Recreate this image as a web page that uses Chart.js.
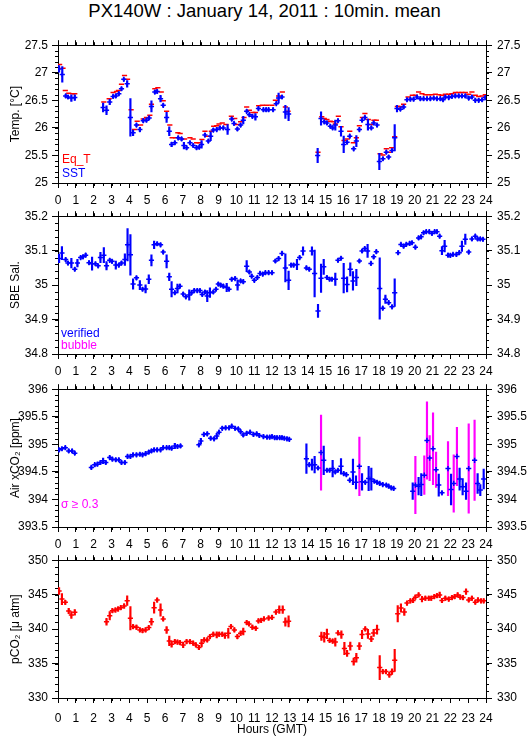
<!DOCTYPE html>
<html>
<head>
<meta charset="utf-8">
<script src="https://cdn.jsdelivr.net/npm/chart.js"></script>
<style>
  body { margin: 0; width: 529px; height: 739px; background: #fff; position: relative; overflow: hidden;
         font-family: "Liberation Sans", Arial, Helvetica, sans-serif; }
  canvas { position: absolute; left: 0; }
  .note { position: absolute; font-size: 12px; line-height: 12px; white-space: nowrap; }
</style>
</head>
<body>
<div style="position:absolute;left:0;top:2px;width:529px;text-align:center;font-size:18.5px;line-height:18px">PX140W : January 14, 2011 : 10min. mean</div>

<canvas id="tempChart" width="529" height="172" style="top:33px"></canvas>
<canvas id="salChart" width="529" height="172" style="top:204px"></canvas>
<canvas id="airChart" width="529" height="172" style="top:377px"></canvas>
<canvas id="pco2Chart" width="529" height="191" style="top:548px"></canvas>

<div class="note" style="left:62px;top:153px;color:#f00">Eq_T</div>
<div class="note" style="left:62px;top:167px;color:#00f">SST</div>
<div class="note" style="left:61px;top:327px;color:#00f">verified</div>
<div class="note" style="left:61px;top:339px;color:#f0f">bubble</div>
<div class="note" style="left:61px;top:498px;color:#f0f">σ ≥ 0.3</div>

<script>
// --- DATA ---  [hour, value, half error bar]
const sst = [
  [0.06,27.07,0.06],[0.24,26.97,0.14],[0.43,26.58,0.03],[0.56,26.56,0.03],[0.75,26.54,0.06],[0.94,26.55,0.05],
  [2.53,26.37,0.08],[2.72,26.32,0.08],[2.90,26.47,0.05],[3.09,26.57,0.03],[3.24,26.58,0.03],[3.41,26.62,0.03],[3.56,26.71,0.03],[3.69,26.88,0.03],[3.88,26.80,0.06],
  [4.06,26.19,0.34],[4.21,25.91,0.05],[4.40,26.05,0.03],[4.59,25.97,0.04],[4.78,26.13,0.03],[4.96,26.14,0.03],[5.11,26.18,0.03],[5.24,26.39,0.10],[5.43,26.65,0.03],[5.56,26.66,0.03],[5.75,26.53,0.06],[5.90,26.41,0.03],
  [6.09,26.19,0.09],[6.24,25.94,0.08],[6.37,25.70,0.04],[6.55,25.73,0.03],[6.74,25.82,0.03],[6.93,25.80,0.03],[7.06,25.68,0.06],[7.21,25.64,0.03],[7.40,25.73,0.03],[7.58,25.68,0.03],[7.77,25.64,0.03],[7.92,25.65,0.03],
  [8.05,25.70,0.07],[8.24,25.87,0.03],[8.43,25.76,0.03],[8.56,25.85,0.08],[8.71,25.96,0.03],[8.90,25.97,0.03],[9.08,26.00,0.03],[9.27,26.00,0.03],[9.51,25.97,0.09],[9.74,26.16,0.03],[9.87,26.08,0.03],
  [10.06,25.98,0.03],[10.24,26.05,0.03],[10.39,26.14,0.07],[10.58,26.30,0.03],[10.73,26.24,0.03],[10.90,26.21,0.03],[11.07,26.20,0.06],[11.24,26.35,0.03],[11.52,26.33,0.03],[11.67,26.33,0.03],[11.81,26.33,0.03],
  [12.06,26.33,0.03],[12.24,26.44,0.03],[12.37,26.54,0.09],[12.56,26.56,0.03],[12.75,26.29,0.12],[12.93,26.25,0.12],
  [14.56,25.50,0.13],[14.75,26.17,0.12],[14.93,26.11,0.03],[15.08,26.09,0.03],[15.27,26.03,0.03],[15.40,26.00,0.03],[15.55,26.05,0.09],[15.70,26.13,0.03],[15.87,25.94,0.09],
  [16.02,25.70,0.15],[16.21,25.74,0.03],[16.36,25.85,0.03],[16.58,25.62,0.03],[16.73,25.76,0.10],[16.90,25.97,0.03],[17.05,26.14,0.03],[17.21,26.19,0.03],[17.38,26.06,0.10],[17.57,26.00,0.03],[17.70,26.09,0.03],[17.89,26.05,0.03],
  [18.02,25.39,0.15],[18.22,25.44,0.03],[18.41,25.56,0.03],[18.54,25.47,0.03],[18.73,25.59,0.03],[18.88,25.82,0.24],[19.01,26.35,0.06],[19.20,26.34,0.03],[19.38,26.38,0.03],[19.57,26.51,0.03],[19.76,26.52,0.03],[19.94,26.52,0.03],
  [20.13,26.56,0.03],[20.32,26.53,0.03],[20.50,26.53,0.03],[20.69,26.53,0.03],[20.88,26.53,0.03],[21.07,26.54,0.03],[21.25,26.53,0.03],[21.44,26.53,0.03],[21.59,26.51,0.03],[21.72,26.56,0.03],[21.91,26.55,0.03],
  [22.09,26.57,0.03],[22.28,26.58,0.03],[22.47,26.58,0.03],[22.65,26.58,0.03],[22.84,26.58,0.03],[23.03,26.54,0.03],[23.21,26.56,0.03],[23.40,26.50,0.03],[23.59,26.50,0.03],[23.78,26.51,0.03],[23.96,26.55,0.03]
];

// [hour, value]
const eqT = [
  [0.09,27.15],[0.28,27.08],[0.41,26.68],[0.60,26.63],[0.81,26.62],[0.94,26.62],[2.57,26.47],[2.87,26.53],[3.09,26.64],[3.28,26.66],[3.39,26.68],[3.56,26.79],[3.73,26.95],[3.90,26.88],
  [4.10,26.33],[4.29,25.97],[4.44,26.12],[4.63,26.05],[4.78,26.16],[4.96,26.19],[5.15,26.23],[5.24,26.43],[5.43,26.71],[5.60,26.73],[5.79,26.65],[5.90,26.49],[6.09,26.30],[6.27,26.05],[6.40,25.82],
  [6.59,25.82],[6.72,25.91],[6.85,25.90],[7.10,25.80],[7.40,25.82],[7.58,25.80],[7.77,25.73],[7.92,25.73],[8.07,25.79],[8.24,25.94],[8.43,25.85],[8.60,25.94],[8.73,26.03],[8.90,26.04],[9.03,26.07],
  [9.21,26.09],[9.42,26.06],[9.72,26.21],[9.91,26.17],[10.06,26.06],[10.24,26.11],[10.43,26.19],[10.58,26.38],[10.73,26.32],[10.92,26.28],[11.07,26.28],[11.25,26.40],[11.46,26.41],[11.72,26.41],
  [12.00,26.41],[12.19,26.50],[12.37,26.58],[12.58,26.65],[12.75,26.38],[12.90,26.30],
  [14.58,25.56],[14.79,26.20],[14.93,26.17],[15.08,26.15],[15.27,26.12],[15.42,26.11],[15.55,26.07],[15.72,26.21],[15.87,26.02],[16.04,25.77],[16.22,25.80],[16.36,25.94],[16.56,25.73],[16.73,25.82],
  [16.90,26.04],[17.07,26.19],[17.21,26.26],[17.40,26.15],[17.53,26.06],[17.72,26.14],[17.85,26.14],[18.06,25.53],[18.22,25.51],[18.41,25.62],[18.56,25.56],[18.71,25.64],[18.88,25.84],
  [19.03,26.39],[19.21,26.39],[19.38,26.43],[19.63,26.56],[19.87,26.59],[20.04,26.59],[20.22,26.65],[20.41,26.62],[20.60,26.60],[20.79,26.60],[20.97,26.60],[21.16,26.61],[21.35,26.60],[21.53,26.59],
  [21.72,26.61],[21.91,26.61],[22.09,26.62],[22.28,26.64],[22.47,26.64],[22.65,26.64],[22.84,26.64],[23.03,26.61],[23.21,26.65],[23.40,26.59],[23.59,26.57],[23.78,26.58],[23.96,26.60]
];

const salinity = [
  [0.06,35.077,0.012],[0.22,35.093,0.019],[0.43,35.074,0.005],[0.56,35.064,0.005],[0.75,35.064,0.014],[0.94,35.046,0.005],[1.09,35.064,0.011],[1.27,35.080,0.005],[1.40,35.082,0.005],[1.55,35.087,0.005],
  [1.74,35.065,0.005],[1.91,35.062,0.019],[2.10,35.062,0.005],[2.25,35.056,0.005],[2.38,35.080,0.015],[2.57,35.087,0.022],[2.72,35.056,0.012],[2.90,35.072,0.005],[3.03,35.069,0.005],[3.24,35.058,0.012],
  [3.41,35.058,0.005],[3.56,35.064,0.005],[3.75,35.074,0.017],[3.90,35.117,0.047],[4.06,35.088,0.059],[4.21,35.003,0.015],[4.40,35.021,0.005],[4.59,35.000,0.013],[4.74,34.988,0.005],[4.91,34.989,0.012],
  [5.09,35.017,0.013],[5.24,35.072,0.016],[5.39,35.117,0.011],[5.56,35.120,0.005],[5.75,35.117,0.005],[5.90,35.096,0.005],[6.09,35.069,0.019],[6.24,35.024,0.011],[6.37,34.988,0.022],[6.55,34.978,0.005],
  [6.70,34.990,0.013],[6.84,34.997,0.005],[7.02,34.974,0.005],[7.17,34.966,0.005],[7.36,34.971,0.015],[7.49,34.978,0.005],[7.64,34.984,0.005],[7.81,34.984,0.005],[7.96,34.984,0.005],[8.09,34.973,0.005],
  [8.24,34.980,0.005],[8.37,34.968,0.016],[8.52,34.978,0.014],[8.71,34.980,0.005],[8.86,34.988,0.005],[8.99,35.003,0.005],[9.12,35.000,0.005],[9.27,34.997,0.005],[9.46,34.993,0.012],[9.59,34.988,0.005],
  [9.74,35.017,0.005],[9.93,35.019,0.005],[10.07,35.000,0.015],[10.24,35.012,0.005],[10.39,35.010,0.005],[10.58,35.055,0.016],[10.73,35.038,0.005],[10.86,35.026,0.005],[11.01,35.014,0.005],[11.18,35.022,0.005],
  [11.33,35.034,0.005],[11.48,35.032,0.005],[11.63,35.036,0.005],[11.81,35.036,0.005],[12.00,35.036,0.005],[12.19,35.070,0.005],[12.37,35.077,0.005],[12.56,35.092,0.005],[12.75,35.050,0.041],[12.93,35.014,0.027],
  [13.07,35.058,0.005],[13.21,35.058,0.005],[13.40,35.060,0.015],[13.55,35.080,0.005],[13.74,35.099,0.012],[13.93,35.050,0.005],[14.09,35.046,0.005],[14.24,35.099,0.012],[14.39,35.034,0.068],[14.58,34.925,0.019],
  [14.75,35.020,0.041],[14.90,35.053,0.022],[15.08,35.022,0.005],[15.23,35.017,0.005],[15.36,35.017,0.005],[15.55,35.017,0.018],[15.70,35.072,0.005],[15.87,35.078,0.005],[16.02,35.020,0.043],[16.21,35.002,0.022],
  [16.39,35.046,0.019],[16.54,35.012,0.027],[16.73,35.022,0.024],[16.90,35.070,0.005],[17.05,35.099,0.005],[17.20,35.106,0.005],[17.36,35.099,0.019],[17.55,35.063,0.005],[17.70,35.082,0.005],[17.85,35.097,0.005],
  [18.04,34.990,0.089],[18.21,34.933,0.005],[18.36,34.959,0.012],[18.54,34.949,0.005],[18.73,34.937,0.005],[18.88,34.978,0.040],[19.07,35.094,0.005],[19.23,35.118,0.005],[19.38,35.113,0.005],[19.53,35.118,0.005],
  [19.72,35.121,0.005],[19.85,35.123,0.005],[20.04,35.110,0.005],[20.22,35.137,0.005],[20.36,35.140,0.005],[20.50,35.152,0.005],[20.65,35.155,0.005],[20.82,35.155,0.005],[20.97,35.150,0.005],[21.12,35.155,0.005],
  [21.25,35.155,0.005],[21.40,35.142,0.005],[21.53,35.100,0.012],[21.68,35.113,0.017],[21.87,35.087,0.005],[22.00,35.086,0.005],[22.15,35.089,0.005],[22.34,35.089,0.005],[22.50,35.094,0.005],[22.65,35.113,0.015],
  [22.84,35.133,0.015],[23.03,35.096,0.005],[23.21,35.134,0.005],[23.40,35.142,0.005],[23.53,35.134,0.005],[23.68,35.134,0.005],[23.83,35.133,0.005]
];

const airXco2 = [
  [0.06,394.90,0.03],[0.22,394.92,0.03],[0.41,394.94,0.03],[0.60,394.88,0.03],[0.79,394.88,0.03],[0.94,394.84,0.03],
  [1.87,394.58,0.03],[2.06,394.63,0.03],[2.21,394.64,0.03],[2.38,394.67,0.03],[2.53,394.70,0.05],[2.68,394.67,0.03],[2.90,394.76,0.03],[3.05,394.73,0.03],[3.24,394.72,0.03],[3.41,394.72,0.03],
  [3.56,394.67,0.03],[3.75,394.67,0.03],[3.90,394.78,0.03],[4.06,394.78,0.03],[4.21,394.81,0.03],[4.40,394.81,0.03],[4.59,394.82,0.03],[4.74,394.81,0.03],[4.91,394.83,0.03],[5.09,394.86,0.03],
  [5.24,394.88,0.03],[5.39,394.90,0.03],[5.56,394.90,0.03],[5.75,394.90,0.03],[5.90,394.94,0.03],[6.09,394.94,0.03],[6.24,394.94,0.03],[6.37,394.93,0.03],[6.55,394.97,0.05],[6.70,394.96,0.03],[6.87,394.97,0.03],
  [7.90,394.99,0.03],[8.01,395.06,0.05],[8.18,395.18,0.03],[8.37,395.19,0.03],[8.56,395.11,0.03],[8.75,395.10,0.03],[8.90,395.15,0.05],[9.03,395.22,0.03],[9.21,395.29,0.03],[9.40,395.30,0.03],
  [9.59,395.30,0.03],[9.74,395.33,0.03],[9.93,395.29,0.03],[10.11,395.28,0.03],[10.24,395.23,0.03],[10.39,395.17,0.03],[10.58,395.20,0.03],[10.77,395.22,0.03],[10.96,395.18,0.03],[11.14,395.19,0.03],
  [11.29,395.16,0.03],[11.52,395.14,0.03],[11.72,395.13,0.03],[11.87,395.13,0.03],[12.00,395.14,0.03],[12.15,395.12,0.03],[12.28,395.12,0.03],[12.43,395.12,0.03],[12.56,395.12,0.03],[12.69,395.11,0.03],
  [12.84,395.10,0.03],[12.97,395.09,0.03],
  [13.93,394.74,0.27],[14.09,394.63,0.03],[14.24,394.63,0.10],[14.39,394.63,0.15],[14.58,394.57,0.03],[14.75,394.85,0.68],[14.90,394.71,0.26],[15.08,394.53,0.03],[15.23,394.53,0.03],[15.40,394.56,0.15],
  [15.55,394.50,0.03],[15.70,394.53,0.03],[15.87,394.60,0.14],[16.02,394.47,0.03],[16.17,394.45,0.03],[16.36,394.35,0.03],[16.54,394.50,0.23],[16.71,394.31,0.12],[16.90,394.60,0.53],[17.05,394.32,0.15],
  [17.23,394.31,0.03],[17.42,394.38,0.22],[17.57,394.37,0.20],[17.74,394.33,0.03],[17.89,394.31,0.03],[18.04,394.29,0.03],[18.21,394.27,0.03],[18.41,394.26,0.03],[18.54,394.24,0.03],[18.69,394.21,0.03],[18.82,394.20,0.03],
  [19.89,394.15,0.15],[20.04,394.26,0.52],[20.22,394.24,0.16],[20.37,394.27,0.20],[20.54,394.44,0.35],[20.69,395.07,0.70],[20.84,394.75,0.41],[21.03,394.92,0.65],[21.20,394.54,0.32],[21.35,394.26,0.20],
  [21.53,394.12,0.03],[21.87,394.56,0.49],[22.04,394.18,0.28],[22.19,394.29,0.52],[22.37,394.78,0.53],[22.52,394.37,0.20],[22.69,394.23,0.15],[22.88,394.15,0.15],[23.03,394.56,0.81],[23.36,394.71,0.73],
  [23.53,394.29,0.18],[23.68,394.17,0.10],[23.87,394.37,0.18]
];
const sigmaLimit = 0.3;

const pco2 = [
  [0.06,345.52,0.5],[0.22,344.36,0.8],[0.41,343.88,0.3],[0.60,342.63,0.4],[0.75,342.05,0.5],[0.94,342.43,0.4],
  [2.72,341.08,0.5],[2.90,341.95,0.6],[3.05,342.67,0.3],[3.22,342.77,0.3],[3.37,342.92,0.3],[3.52,343.11,0.3],[3.71,343.35,0.3],[3.88,344.12,0.7],[4.06,341.57,1.7],[4.21,340.36,0.3],
  [4.40,340.27,0.3],[4.59,339.88,0.3],[4.74,339.78,0.3],[4.91,339.88,0.3],[5.09,340.22,0.3],[5.24,341.08,0.5],[5.39,343.11,0.8],[5.56,344.22,0.3],[5.75,342.77,0.9],[5.90,341.47,0.3],
  [6.09,339.88,0.5],[6.24,338.29,0.7],[6.37,337.81,0.45],[6.55,338.19,0.3],[6.70,338.10,0.3],[6.84,338.05,0.3],[7.02,337.71,0.4],[7.21,338.19,0.3],[7.40,338.19,0.3],[7.58,337.95,0.3],
  [7.73,337.71,0.3],[7.90,337.33,0.3],[8.05,337.95,0.55],[8.20,338.43,0.3],[8.37,338.43,0.3],[8.52,338.92,0.3],[8.71,339.25,0.3],[8.90,339.16,0.45],[9.04,339.25,0.3],[9.21,339.25,0.3],
  [9.36,339.06,0.4],[9.55,339.40,0.7],[9.70,340.36,0.3],[9.89,339.88,0.3],[10.06,338.92,0.3],[10.24,339.40,0.3],[10.39,339.64,0.5],[10.58,340.94,0.3],[10.71,340.75,0.3],[10.90,340.27,0.3],
  [11.09,340.12,0.3],[11.24,341.18,0.3],[11.39,341.28,0.3],[11.55,341.47,0.3],[11.81,341.61,0.3],[12.00,341.70,0.3],[12.22,342.47,0.3],[12.41,342.81,0.55],[12.60,342.81,0.55],[12.75,341.03,0.6],[12.93,341.13,0.8],
  [14.77,338.97,0.6],[14.93,338.82,0.7],[15.08,339.30,0.7],[15.23,338.35,0.3],[15.40,338.25,0.3],[15.55,338.11,0.6],[15.70,339.45,0.3],[15.89,339.21,0.55],[16.06,337.19,0.9],[16.21,336.47,0.45],
  [16.39,337.53,0.6],[16.58,335.28,0.5],[16.73,335.85,0.65],[16.90,337.53,0.5],[17.05,339.21,0.6],[17.23,340.02,0.3],[17.38,339.30,0.65],[17.57,338.58,0.4],[17.70,339.45,0.5],[17.89,339.93,0.65],
  [18.04,334.41,1.75],[18.21,333.84,0.3],[18.39,333.84,0.3],[18.58,333.36,0.35],[18.73,333.84,0.4],[18.88,335.47,1.6],[19.05,342.23,1.2],[19.23,343.05,0.6],[19.42,342.47,0.5],[19.57,343.77,0.3],
  [19.76,344.10,0.3],[19.91,344.15,0.3],[20.04,344.63,0.3],[20.22,344.96,0.3],[20.41,344.34,0.4],[20.60,344.48,0.3],[20.79,344.48,0.3],[20.93,344.48,0.3],[21.10,344.72,0.3],[21.25,344.87,0.3],
  [21.40,344.96,0.4],[21.53,344.15,0.3],[21.72,344.48,0.3],[21.91,344.34,0.3],[22.09,344.58,0.3],[22.24,344.72,0.3],[22.41,344.96,0.3],[22.56,344.63,0.3],[22.71,344.58,0.3],[22.88,345.44,0.4],
  [23.03,344.24,0.3],[23.21,344.48,0.3],[23.40,343.91,0.3],[23.55,344.24,0.3],[23.72,344.10,0.3],[23.87,344.10,0.3]
];

const BLUE = '#0000ff', RED = '#ff0000', MAGENTA = '#ff00ff';

Chart.defaults.font.family = '"Liberation Sans", Arial, Helvetica, sans-serif';
Chart.defaults.font.size = 12;
Chart.defaults.color = '#000';

// --- HELPERS ---
const fmt = v => String(Math.round(v * 1000) / 1000);

function points(rows, color, style) {
    return {
        type: 'scatter', xAxisID: 'x', yAxisID: 'y',
        data: rows.map(r => ({ x: r[0], y: r[1] })),
        pointStyle: style, pointRadius: 2.6, pointHoverRadius: 2.6,
        pointBorderColor: color, pointBackgroundColor: color, pointBorderWidth: 1.5
    };
}

function errorBars(rows, color) {
    return {
        type: 'bar', xAxisID: 'x', yAxisID: 'y',
        data: rows.map(r => ({ x: r[0], y: [r[1] - r[2], r[1] + r[2]] })),
        backgroundColor: color, barThickness: 1.5, grouped: false, borderWidth: 0
    };
}

// short ticks between the labelled ones
const minorTicks = {
    id: 'minorTicks',
    afterDraw(chart, args, opts) {
        const { x, x2, y, y2 } = chart.scales;
        const ctx = chart.ctx;
        ctx.save();
        ctx.strokeStyle = '#000';
        ctx.lineWidth = 1;
        ctx.beginPath();
        const ny = Math.round((y.max - y.min) / opts.yStep);
        for (let i = 0; i <= ny; i++) {
            const py = Math.round(y.getPixelForValue(y.min + i * opts.yStep)) + 0.5;
            ctx.moveTo(y.right - 3, py); ctx.lineTo(y.right, py);
            ctx.moveTo(y2.left, py); ctx.lineTo(y2.left + 3, py);
        }
        const nx = Math.round((x.max - x.min) / 0.5);
        for (let i = 0; i <= nx; i++) {
            const px = Math.round(x.getPixelForValue(x.min + i * 0.5)) + 0.5;
            ctx.moveTo(px, x.top); ctx.lineTo(px, x.top + 3);
            ctx.moveTo(px, x2.bottom); ctx.lineTo(px, x2.bottom - 3);
        }
        ctx.stroke();
        ctx.restore();
    }
};

function makePanel(id, o) {
    const axisGrid = { drawOnChartArea: false, offset: false, tickLength: 6, color: '#000' };
    const xGrid = { drawOnChartArea: false, offset: false, tickLength: 5, color: '#000' };
    const yTicks = { stepSize: o.step, callback: fmt, padding: 4 };
    return new Chart(document.getElementById(id), {
        type: 'scatter',
        data: { datasets: o.datasets },
        options: {
            responsive: false,
            animation: false,
            events: [],
            layout: { padding: 0 },
            plugins: {
                legend: { display: false },
                tooltip: { enabled: false },
                minorTicks: { yStep: o.minor }
            },
            scales: {
                x: {
                    type: 'linear', axis: 'x', position: 'bottom', min: 0, max: 24, offset: false,
                    ticks: { stepSize: 1, autoSkip: false, maxRotation: 0, padding: o.xPad },
                    grid: xGrid, border: { color: '#000' },
                    title: o.xTitle
                        ? { display: true, text: o.xTitle, padding: { top: 0, bottom: 2 } }
                        : { display: false },
                    afterFit: s => { s.height = o.bottomH; }
                },
                x2: {
                    type: 'linear', axis: 'x', position: 'top', min: 0, max: 24, offset: false,
                    ticks: { display: false, stepSize: 1 },
                    grid: xGrid, border: { color: '#000' },
                    afterFit: s => { s.height = 12; }
                },
                y: {
                    type: 'linear', axis: 'y', position: 'left', min: o.min, max: o.max,
                    ticks: yTicks, grid: axisGrid, border: { color: '#000' },
                    title: { display: true, text: o.title, padding: { top: 8, bottom: 0 } },
                    afterFit: s => { s.width = 58; }
                },
                y2: {
                    type: 'linear', axis: 'y', position: 'right', min: o.min, max: o.max,
                    ticks: { stepSize: o.step, callback: fmt, padding: 5 }, grid: axisGrid, border: { color: '#000' },
                    afterFit: s => { s.width = 43; }
                }
            }
        },
        plugins: [minorTicks]
    });
}

// --- PANELS ---
makePanel('tempChart', {
    min: 25, max: 27.5, step: 0.5, minor: 0.1, title: 'Temp. [°C]', bottomH: 22, xPad: 5,
    datasets: [points(sst, BLUE, 'cross'), errorBars(sst, BLUE), points(eqT, RED, 'line')]
});

makePanel('salChart', {
    min: 34.8, max: 35.2, step: 0.1, minor: 0.02, title: 'SBE Sal.', bottomH: 22, xPad: 5,
    datasets: [points(salinity, BLUE, 'cross'), errorBars(salinity, BLUE)]
});

makePanel('airChart', {
    min: 393.5, max: 396, step: 0.5, minor: 0.1, title: 'Air xCO₂ [ppm]', bottomH: 22, xPad: 5,
    datasets: [
        points(airXco2, BLUE, 'cross'),
        errorBars(airXco2.filter(r => r[2] < sigmaLimit), BLUE),
        errorBars(airXco2.filter(r => r[2] >= sigmaLimit), MAGENTA)
    ]
});

makePanel('pco2Chart', {
    min: 330, max: 350, step: 5, minor: 1, title: 'pCO₂ [μ atm]', bottomH: 41, xPad: 8, xTitle: 'Hours (GMT)',
    datasets: [points(pco2, RED, 'cross'), errorBars(pco2, RED)]
});
</script>
</body>
</html>
